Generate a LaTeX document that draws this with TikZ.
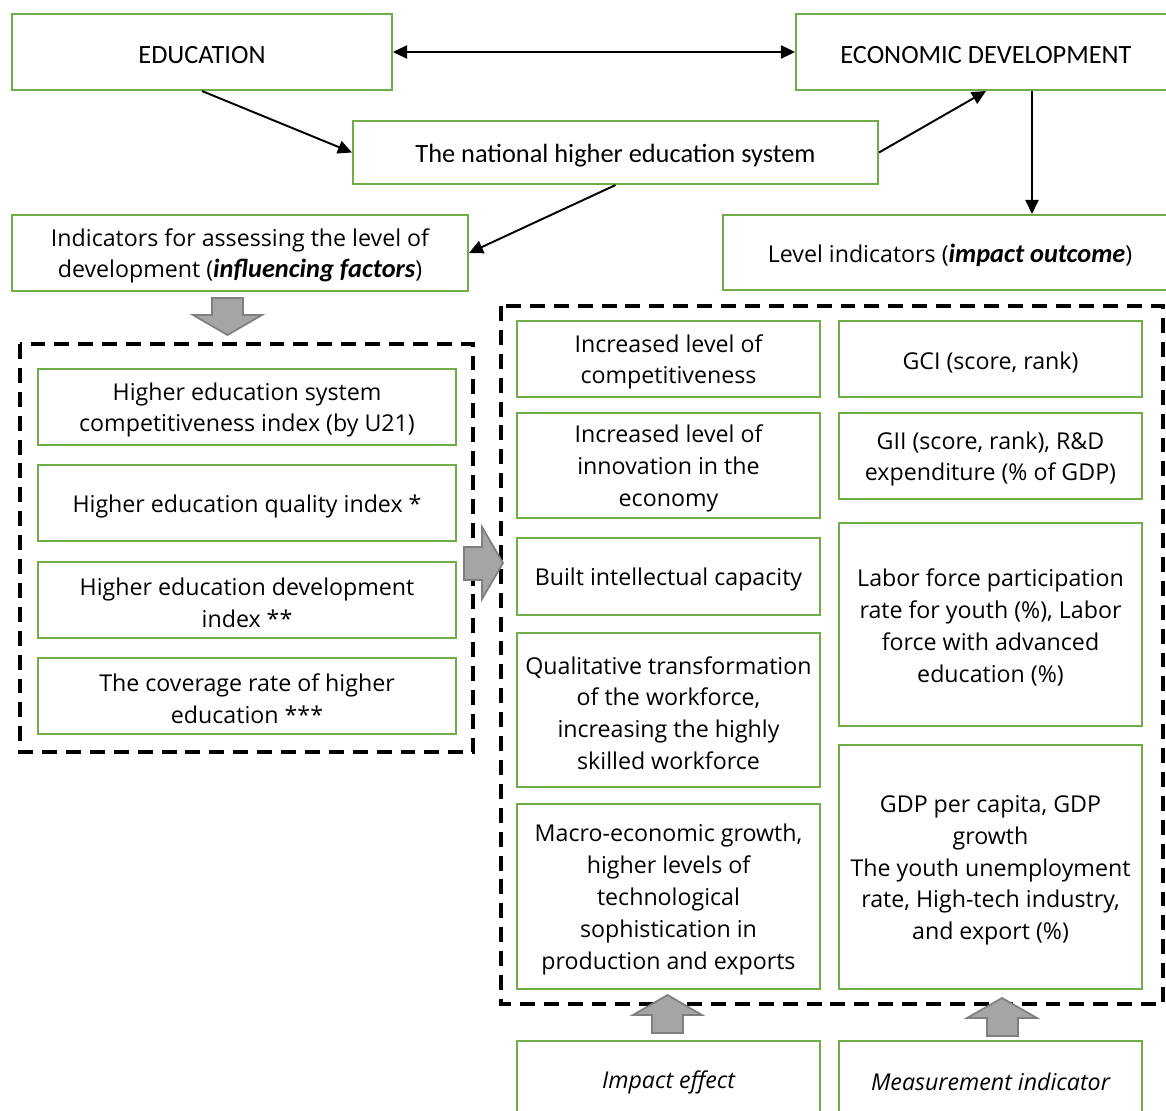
\documentclass[tikz,border=0pt]{standalone}
\usepackage{fontspec}
\setmainfont{Open Sans}
\newfontfamily\hfont{Carlito}
\usetikzlibrary{arrows.meta}
\definecolor{boxgreen}{HTML}{70AD47}
\definecolor{arrowgray}{HTML}{A5A5A5}
\definecolor{arrowedge}{HTML}{7F7F7F}
\newcommand{\keyterm}[1]{{\hfont\fontsize{15}{18}\selectfont\bfseries\itshape #1}}

\begin{document}
\begin{tikzpicture}[x=0.02cm,y=-0.02cm]
		\tikzstyle{Box}   = [draw=boxgreen, line width=1.2pt, align=center, inner sep=0pt, minimum width=6.06cm, minimum height=1.52cm, font=\fontsize{13.2}{18.1}\selectfont, execute at begin node={\rule{0pt}{13.5pt}}]
		\tikzstyle{Multi} = [Box, align=flush center, text width=6.06cm]
		\tikzstyle{Head}  = [Box, font=\hfont\fontsize{15}{18}\selectfont, execute at begin node={\rule{0pt}{12.5pt}}]
		\tikzstyle{Link}  = [line width=1.1pt, >={Triangle[length=8pt,width=7.5pt]}]
		\tikzstyle{Group} = [line width=1.9pt, dash pattern=on 8.5pt off 5.1pt]
		\tikzstyle{BlockArrow} = [fill=arrowgray, draw=arrowedge, line width=1pt]
		\useasboundingbox (0,0) rectangle (1166,1111);

		\node[Head, minimum width=7.6cm] (Education) at (202,52) {EDUCATION};
		\node[Head, minimum width=7.6cm] (Economy) at (986,52) {ECONOMIC DEVELOPMENT};
		\node[Head, minimum width=10.5cm, minimum height=1.26cm] (System) at (615.5,152.5) {The national higher education system};
		\node[Multi, text width=9.12cm] (Factors) at (240,253) {Indicators for assessing the level of\\development (\keyterm{influencing factors})};
		\node[Box, minimum width=9.08cm, minimum height=1.5cm] (Outcome) at (950,252.5) {Level indicators (\keyterm{impact outcome})};

		\draw[Link, <->] (Education) -- (Economy);
		\draw[Link, ->] (Education.south) -- (System.west);
		\draw[Link, ->] (System.east) -- (Economy.south);
		\draw[Link, ->] (System.south) -- (Factors.east);
		\draw[Link, ->] ([xshift=0.92cm]Economy.south) -- ([xshift=0.92cm]Economy.south |- Outcome.north);

		\draw[Group] (20,344) rectangle (473,752);
		\node[Multi, text width=8.36cm] (U21) at (247,407) {Higher education system\\competitiveness index (by U21)};
		\node[Box, minimum width=8.36cm] (Quality) at (247,503) {Higher education quality index *};
		\node[Multi, text width=8.36cm] (DevIndex) at (247,600) {Higher education development\\index **};
		\node[Multi, text width=8.36cm] (Coverage) at (247,696) {The coverage rate of higher\\education ***};

		\draw[Group] (501,306) rectangle (1163,1004);
		\node[Multi] (Competitive) at (668.5,359) {Increased level of\\competitiveness};
		\node[Multi, minimum height=2.1cm] (Innovation) at (668.5,465.5) {Increased level of\\innovation in the\\economy};
		\node[Box, minimum height=1.54cm] (Capacity) at (668.5,576.5) {Built intellectual capacity};
		\node[Multi, minimum height=3.08cm] (Workforce) at (668.5,710) {Qualitative transformation\\of the workforce,\\increasing the highly\\skilled workforce};
		\node[Multi, minimum height=3.7cm] (Growth) at (668.5,896.5) {Macro-economic growth,\\higher levels of\\technological\\sophistication in\\production and exports};

		\node[Box] (GCI) at (990.5,359) {GCI (score, rank)};
		\node[Multi, minimum height=1.72cm] (GII) at (990.5,456) {GII (score, rank), R\&D\\expenditure (\% of GDP)};
		\node[Multi, minimum height=4.06cm] (Labor) at (990.5,624.5) {Labor force participation\\rate for youth (\%), Labor\\force with advanced\\education (\%)};
		\node[Multi, minimum height=4.88cm] (GDP) at (990.5,867) {GDP per capita, GDP\\growth\\The youth unemployment\\rate, High-tech industry,\\and export (\%)};

		\node[Box] (Effect) at (668.5,1079) {\itshape Impact effect};
		\node[Box] (Measure) at (990.5,1079) {\itshape Measurement indicator};

		\draw[BlockArrow] (212,298) -- (243,298) -- (243,315) -- (262,315) -- (227.5,335) -- (193,315) -- (212,315) -- cycle;
		\draw[BlockArrow] (464,547) -- (482,547) -- (482,527) -- (503,563) -- (482,599) -- (482,580) -- (464,580) -- cycle;
		\draw[BlockArrow] (652,1033) -- (652,1015) -- (633,1015) -- (667.5,995) -- (702,1015) -- (683,1015) -- (683,1033) -- cycle;
		\draw[BlockArrow] (987,1036) -- (987,1018) -- (967,1018) -- (1002,998) -- (1037,1018) -- (1018,1018) -- (1018,1036) -- cycle;
	\end{tikzpicture}
\end{document}
